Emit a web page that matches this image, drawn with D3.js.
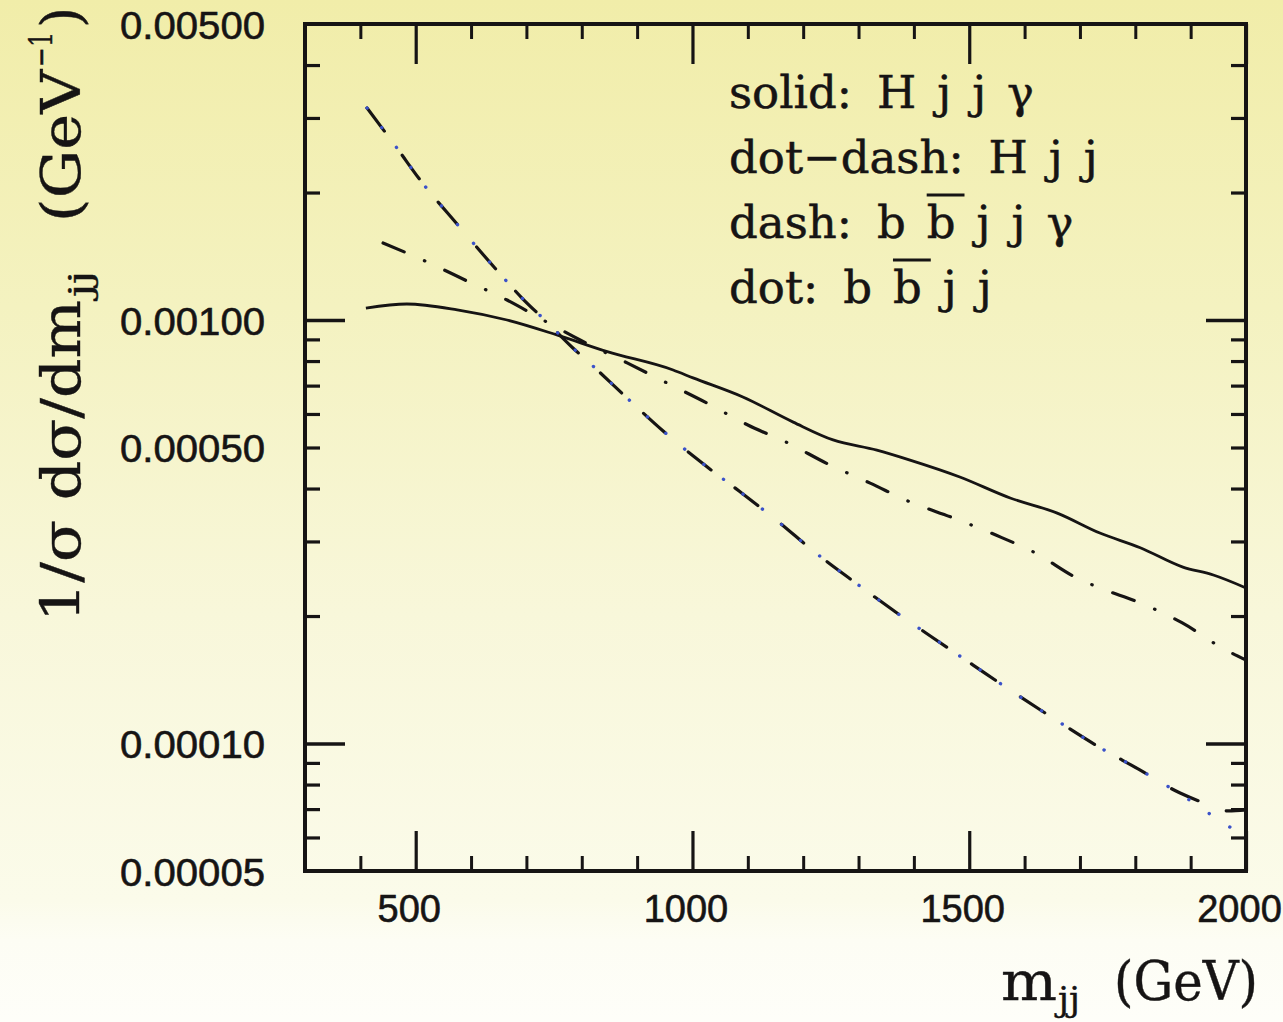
<!DOCTYPE html>
<html><head><meta charset="utf-8">
<script src="https://d3js.org/d3.v7.min.js"></script>
<style>html,body{margin:0;padding:0;background:#fff;}svg{display:block;}</style>
</head><body>
<script>
// ---------------- data ----------------
const solidM = [410,484,575,665,755,846,965,1001,1091,1182,1254,1333,1393,1483,1574,1659,1736,1809,1886,1941,2000];
const solidV = [0.001067,0.001091,0.001057,0.001000,0.000922,0.000842,0.000762,0.000730,0.000658,0.000574,0.000521,0.000493,0.000467,0.000426,0.000380,0.000350,0.000314,0.000290,0.000261,0.000250,0.000233];

const dotdashM = [441,517,593,665,737,797,882,954,1026,1100,1173,1245,1321,1393,1471,1547,1619,1697,1736,1812,1885,1957,2000];
const dotdashV = [0.001520,0.001378,0.001236,0.001115,0.000989,0.000897,0.000792,0.000710,0.000637,0.000565,0.000512,0.000457,0.000412,0.000372,0.000341,0.000311,0.000282,0.000245,0.000233,0.000214,0.0001926,0.0001681,0.0001574];

const dashM = [412,466,508,576,643,692,737,784,820,882,947,1017,1086,1155,1221,1290,1362,1435,1507,1579,1651,1731,1805,1880,1940,1968,2000];
const dashV = [0.003167,0.002548,0.002141,0.001677,0.001327,0.001127,0.000989,0.000859,0.000779,0.000654,0.000547,0.000460,0.000393,0.000334,0.000283,0.000242,0.0002066,0.0001775,0.0001532,0.0001323,0.0001149,0.0000987,0.0000871,0.0000765,0.0000712,0.0000693,0.0000697];

const dotM = [412,466,508,576,643,692,737,784,820,882,947,1017,1086,1155,1221,1290,1362,1435,1507,1579,1651,1731,1805,1881,1917,1953,2000];
const dotV = [0.003167,0.002548,0.002141,0.001677,0.001327,0.001127,0.000989,0.000859,0.000779,0.000654,0.000547,0.000460,0.000393,0.000334,0.000283,0.000242,0.0002066,0.0001775,0.0001532,0.0001323,0.0001149,0.0000987,0.0000871,0.0000760,0.0000708,0.0000656,0.0000605];

const xMajorTicks = [500,1000,1500,2000];
const xMinorTicks = [400,600,700,800,900,1100,1200,1300,1400,1600,1700,1800,1900];
const yLabelValues = [0.005,0.001,0.0005,0.0001,0.00005];
const yTickLabels = ["0.00500","0.00100","0.00050","0.00010","0.00005"];
const yMajorTicks = [0.001,0.0001];

const legendRows = [
  ["solid:", "H", "j", "j", "\u03b3"],
  ["dot\u2212dash:", "H", "j", "j"],
  ["dash:", "b", "b\u0305", "j", "j", "\u03b3"],
  ["dot:", "b", "b\u0305", "j", "j"]
];

// ---------------- layout ----------------
const W = 1283, H = 1022;
const L = 305, R = 1246, T = 24, B = 871;

const svg = d3.select("body").append("svg").attr("width", W).attr("height", H);
const defs = svg.append("defs");
const grad = defs.append("linearGradient").attr("id","bg").attr("x1",0).attr("y1",0).attr("x2",0).attr("y2",1);
[[0,"#f1eda9"],[0.3,"#f4f2c0"],[0.6,"#f8f7da"],[0.88,"#fbfbea"],[0.92,"#fdfdf4"],[1,"#fefef9"]]
  .forEach(([o,c]) => grad.append("stop").attr("offset",o).attr("stop-color",c));
svg.append("rect").attr("width",W).attr("height",H).attr("fill","url(#bg)");
defs.append("clipPath").attr("id","clip").append("rect").attr("x",L).attr("y",T).attr("width",R-L).attr("height",B-T);

const x = d3.scaleLinear().domain([300,2000]).range([L,R]);
const y = d3.scaleLog().domain([0.00005,0.005]).range([B,T]);

// minor log ticks
const yMinorTicks = [];
[0.00001,0.0001,0.001].forEach(p => { for (let k=2;k<=9;k++){ const v=+(k*p).toPrecision(3); if (v>0.00005 && v<0.005) yMinorTicks.push(v);} });

const ink = "#161414";
function styleAxis(g, w){ g.select(".domain").remove(); g.selectAll("line").attr("stroke",ink).attr("stroke-width",w); g.selectAll("text").remove(); }

// bottom/top x ticks (inward)
styleAxis(svg.append("g").attr("transform",`translate(0,${B})`).call(d3.axisBottom(x).tickValues(xMinorTicks).tickSizeInner(-15).tickSizeOuter(0)),3);
styleAxis(svg.append("g").attr("transform",`translate(0,${B})`).call(d3.axisBottom(x).tickValues(xMajorTicks).tickSizeInner(-40).tickSizeOuter(0)),3.2);
styleAxis(svg.append("g").attr("transform",`translate(0,${T})`).call(d3.axisTop(x).tickValues(xMinorTicks).tickSizeInner(-15).tickSizeOuter(0)),3);
styleAxis(svg.append("g").attr("transform",`translate(0,${T})`).call(d3.axisTop(x).tickValues(xMajorTicks).tickSizeInner(-40).tickSizeOuter(0)),3.2);
// left/right y ticks (inward)
styleAxis(svg.append("g").attr("transform",`translate(${L},0)`).call(d3.axisLeft(y).tickValues(yMinorTicks).tickSizeInner(-15).tickSizeOuter(0)),3.2);
styleAxis(svg.append("g").attr("transform",`translate(${L},0)`).call(d3.axisLeft(y).tickValues(yMajorTicks).tickSizeInner(-40).tickSizeOuter(0)),3.6);
styleAxis(svg.append("g").attr("transform",`translate(${R},0)`).call(d3.axisRight(y).tickValues(yMinorTicks).tickSizeInner(-15).tickSizeOuter(0)),3.2);
styleAxis(svg.append("g").attr("transform",`translate(${R},0)`).call(d3.axisRight(y).tickValues(yMajorTicks).tickSizeInner(-40).tickSizeOuter(0)),3.6);

// frame
svg.append("rect").attr("x",L).attr("y",T).attr("width",R-L).attr("height",B-T)
  .attr("fill","none").attr("stroke",ink).attr("stroke-width",4);

// tick labels
const sans = "'Liberation Sans', Arial, Helvetica, sans-serif";
const yl = svg.append("g").attr("transform",`translate(${L-40},0)`)
  .call(d3.axisLeft(y).tickValues(yLabelValues).tickSize(0).tickFormat((d,i)=>yTickLabels[i]));
yl.select(".domain").remove();
yl.selectAll("text").attr("font-family",sans).attr("font-size",39).attr("fill",ink)
  .attr("stroke",ink).attr("stroke-width",0.6).attr("x",0).attr("dy","0.36em").attr("textLength",145).attr("lengthAdjust","spacingAndGlyphs");

const xl = svg.append("g").attr("transform",`translate(-7,${B+51})`)
  .call(d3.axisBottom(x).tickValues(xMajorTicks).tickSize(0).tickFormat(d3.format("d")));
xl.select(".domain").remove();
xl.selectAll("text").attr("font-family",sans).attr("font-size",38).attr("fill",ink)
  .attr("stroke",ink).attr("stroke-width",0.6).attr("dy",0).attr("y",0);

// curves
const plot = svg.append("g").attr("clip-path","url(#clip)");
const line = d3.line().x(d=>x(d[0])).y(d=>y(d[1])).curve(d3.curveMonotoneX);
const zip = (a,b) => a.map((v,i)=>[v,b[i]]);

plot.append("path").datum(zip(solidM,solidV)).attr("d",line)
  .attr("fill","none").attr("stroke",ink).attr("stroke-width",2.8);
plot.append("path").datum(zip(dotdashM,dotdashV)).attr("d",line)
  .attr("fill","none").attr("stroke",ink).attr("stroke-width",3.2)
  .attr("stroke-dasharray","23 22 0.5 22").attr("stroke-linecap","round");
plot.append("path").datum(zip(dashM,dashV)).attr("d",line)
  .attr("fill","none").attr("stroke",ink).attr("stroke-width",3.2)
  .attr("stroke-dasharray","29 30").attr("stroke-linecap","round");
plot.append("path").datum(zip(dotM,dotV)).attr("d",line)
  .attr("fill","none").attr("stroke","#3b52c9").attr("stroke-width",3.4)
  .attr("stroke-dasharray","0.1 24.5").attr("stroke-linecap","round");

// legend
const serif = "'DejaVu Serif', serif";
const leg = svg.append("g");
legendRows.forEach((row,ri) => {
  let cx = 729;
  const by = 108 + ri*65;
  row.forEach((tok,ti) => {
    const bar = tok.includes("\u0305");
    const s = bar ? tok.replace("\u0305","") : tok;
    const t = leg.append("text").attr("x",cx).attr("y",by).text(s)
      .attr("font-family",serif).attr("font-size",45).attr("fill",ink)
      .attr("stroke",ink).attr("stroke-width",0.5);
    const w = t.node().getComputedTextLength();
    if (bar) leg.append("line").attr("x1",cx).attr("x2",cx+w+9).attr("y1",by-43).attr("y2",by-43)
      .attr("stroke",ink).attr("stroke-width",3);
    cx += w + (ti===0 ? 25 : 21);
  });
});

// x axis title
const xt = svg.append("g").attr("font-family",serif).attr("fill",ink).attr("stroke",ink).attr("stroke-width",0.4);
xt.append("text").attr("x",1001).attr("y",1000).attr("font-size",54).text("m").attr("textLength",56).attr("lengthAdjust","spacingAndGlyphs");
xt.append("text").attr("x",1058).attr("y",1011).attr("font-size",34).text("jj").attr("textLength",22).attr("lengthAdjust","spacingAndGlyphs");
xt.append("text").attr("x",1114).attr("y",1000).attr("font-size",54).text("(GeV)").attr("textLength",144).attr("lengthAdjust","spacingAndGlyphs");

// y axis title (rotated)
const yt = svg.append("g").attr("transform","translate(80,622) rotate(-90)")
  .attr("font-family",serif).attr("fill",ink).attr("stroke",ink).attr("stroke-width",0.4);
yt.append("text").attr("x",0).attr("y",0).attr("font-size",54).text("1/\u03c3 d\u03c3/dm").attr("textLength",322).attr("lengthAdjust","spacingAndGlyphs");
yt.append("text").attr("x",325).attr("y",11).attr("font-size",32).text("jj").attr("textLength",26).attr("lengthAdjust","spacingAndGlyphs");
yt.append("text").attr("x",400).attr("y",0).attr("font-size",54).text("(GeV").attr("textLength",152).attr("lengthAdjust","spacingAndGlyphs");
yt.append("text").attr("x",555).attr("y",-28).attr("font-size",32).text("\u22121").attr("textLength",35).attr("lengthAdjust","spacingAndGlyphs");
yt.append("text").attr("x",594).attr("y",0).attr("font-size",54).text(")");
</script>
</body></html>
